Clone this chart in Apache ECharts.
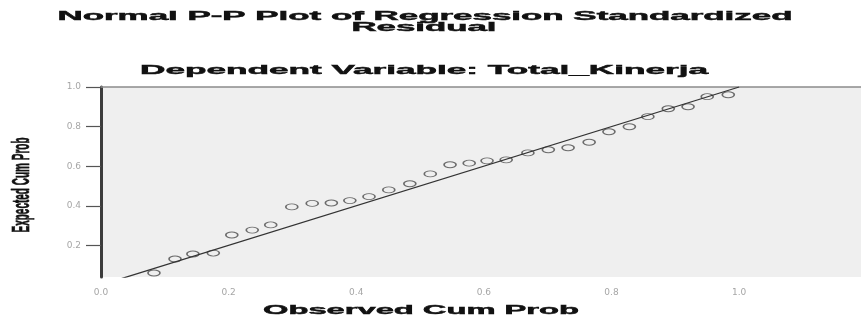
<!DOCTYPE html>
<html>
<head>
<meta charset="utf-8">
<title>Normal P-P Plot</title>
<script src="https://cdn.jsdelivr.net/npm/echarts@6/dist/echarts.min.js"></script>
<style>
  html, body { margin: 0; padding: 0; background: #fff; }
  #chart { width: 861px; height: 320px; }
</style>
</head>
<body>
<div id="chart"></div>
<script>
// observed cum prob (x) / expected cum prob (y)
const observed = [0.083, 0.116, 0.144, 0.176, 0.205, 0.237, 0.266, 0.299, 0.331, 0.361,
  0.390, 0.420, 0.451, 0.484, 0.516, 0.547, 0.577, 0.605, 0.635, 0.669,
  0.701, 0.732, 0.765, 0.796, 0.828, 0.857, 0.889, 0.920, 0.950, 0.983];
const expected = [0.060, 0.131, 0.156, 0.161, 0.252, 0.277, 0.303, 0.394, 0.412, 0.414,
  0.426, 0.446, 0.480, 0.511, 0.561, 0.607, 0.615, 0.627, 0.632, 0.667,
  0.683, 0.693, 0.721, 0.774, 0.799, 0.850, 0.890, 0.900, 0.951, 0.961];
// reference diagonal
const diagonal = [[0, 0], [1, 1]];
const xTicks = [0, 0.2, 0.4, 0.6, 0.8, 1.0];
const yTicks = [0.2, 0.4, 0.6, 0.8, 1.0];

const points = observed.map((v, i) => [v, expected[i]]);

// the picture is stretched sideways, so the texts are too
const ctx = document.createElement("canvas").getContext("2d");
const FONT = 'bold 12px "Liberation Sans", Arial, sans-serif';
function wideText(text, x, y, width, font, extra) {
  ctx.font = font;
  const w = ctx.measureText(text).width;
  return Object.assign({
    type: "text",
    x: x,
    y: y,
    scaleX: width / w,
    silent: true,
    style: {
      text: text,
      font: font,
      fill: "#111",
      stroke: "#111",
      lineWidth: 0.45,
      align: "center",
      verticalAlign: "middle",
      textAlign: "center",
      textVerticalAlign: "middle",
    },
  }, extra || {});
}

const chart = echarts.init(document.getElementById("chart"));

const options = {
  animation: false,
  backgroundColor: "#fff",
  graphic: [
    wideText("Normal P-P Plot of Regression Standardized", 425, 17, 735, FONT),
    wideText("Residual", 424, 28, 145, FONT),
    wideText("Dependent Variable: Total_Kinerja", 424, 70.5, 568, FONT),
    wideText("Observed Cum Prob", 421, 310.5, 316, FONT),
    {
      type: "text",
      x: 23,
      y: 185,
      rotation: Math.PI / 2,
      scaleY: 2.3,
      silent: true,
      style: {
        text: "Expected Cum Prob",
        font: 'bold 10px "Liberation Sans", Arial, sans-serif',
        fill: "#111",
        stroke: "#111",
        lineWidth: 0.3,
        align: "center",
        verticalAlign: "middle",
        textAlign: "center",
        textVerticalAlign: "middle",
      },
    },
  ],
  grid: {
    left: 101,
    right: 0,
    top: 87,
    bottom: 43,
    show: true,
    backgroundColor: "#efefef",
    borderWidth: 0,
  },
  xAxis: [
    {
      type: "value",
      min: 0,
      max: 1.191,
      axisLine: { show: false },
      axisTick: { show: false },
      splitLine: { show: false },
      axisLabel: {
        customValues: xTicks,
        formatter: (v) => v.toFixed(1),
        color: "#a6a6a6",
        fontSize: 9,
        fontFamily: "DejaVu Sans",
        margin: 11,
      },
    },
    {
      type: "value",
      position: "top",
      min: 0,
      max: 1.191,
      axisLine: { show: true, lineStyle: { color: "#8c8c8c", width: 1.5 } },
      axisTick: { show: false },
      axisLabel: { show: false },
      splitLine: { show: false },
    },
  ],
  yAxis: {
    type: "value",
    min: 0.04,
    max: 1,
    axisLine: { show: true, lineStyle: { color: "#3c3c3c", width: 3 } },
    axisTick: {
      show: true,
      customValues: yTicks,
      length: 15,
      lineStyle: { color: "#555", width: 1.2 },
    },
    splitLine: { show: false },
    axisLabel: {
      customValues: yTicks,
      formatter: (v) => v.toFixed(1),
      color: "#a6a6a6",
      fontSize: 9,
      fontFamily: "DejaVu Sans",
      margin: 20,
    },
  },
  series: [
    {
      type: "line",
      data: diagonal,
      symbol: "none",
      clip: true,
      lineStyle: { color: "#333", width: 1.3 },
      z: 3,
    },
    {
      type: "scatter",
      data: points,
      symbol: "path://M0,5A5,5,0,1,1,10,5A5,5,0,1,1,0,5Z",
      symbolSize: [12, 6],
      itemStyle: {
        color: "rgba(0,0,0,0)",
        borderColor: "#4a4a4a",
        borderWidth: 1.2,
      },
      z: 2,
    },
  ],
};

chart.setOption(options);
</script>
</body>
</html>
